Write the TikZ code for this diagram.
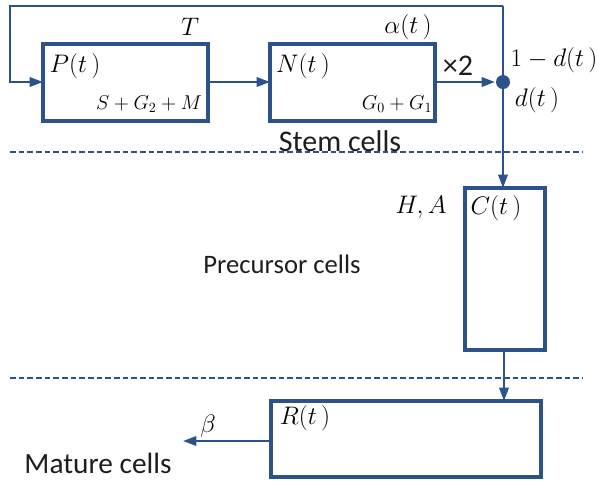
\RequirePackage{fix-cm}
\documentclass[tikz,border=0pt]{standalone}
\usepackage{fontspec}
\newfontfamily\calib{Carlito}
\usetikzlibrary{arrows.meta}
\definecolor{dblue}{RGB}{44,82,140}
\definecolor{txt}{RGB}{30,30,30}
\begin{document}
\begin{tikzpicture}[x=0.75pt,y=-0.75pt,
  box/.style={draw=dblue,line width=2.5pt},
  conn/.style={draw=dblue,line width=1.8pt,-{Triangle[length=10pt,width=7pt]}},
  plain/.style={draw=dblue,line width=1.8pt},
  sep/.style={draw=dblue,line width=1pt,dash pattern=on 4.3pt off 2.2pt},
  mlab/.style={font=\fontsize{19}{22}\selectfont,inner sep=0pt},
  slab/.style={font=\fontsize{15}{17}\selectfont,inner sep=0pt},
  tlab/.style={font=\calib\fontsize{22.5}{26}\selectfont,text=txt,inner sep=0pt}]
\useasboundingbox (0,0) rectangle (597,480);
% boxes
\draw[box] (43,44) rectangle (208,121);
\draw[box] (270,44) rectangle (435,121);
\draw[box] (465,188) rectangle (545,350);
\draw[box] (271,401) rectangle (541,477);
% named anchors
\coordinate (Pw) at (43,82);
\coordinate (Pe) at (208,82);
\coordinate (Nw) at (270,82);
\coordinate (Ne) at (435,82);
\coordinate (dot) at (503,82);
\coordinate (top1) at (10,6);
\coordinate (top2) at (503,6);
\coordinate (left1) at (10,82);
\coordinate (Cn) at (503,188);
\coordinate (Cs) at (504,350);
\coordinate (Rn) at (504,401);
\coordinate (Rw) at (271,441);
\coordinate (out) at (183,441);
% connectors
\draw[conn] (top2) -- (top1) -- (left1) -- (Pw);
\draw[conn] (Pe) -- (Nw);
\draw[conn,shorten >=6pt] (Ne) -- (dot);
\draw[plain] (top2) -- (dot);
\draw[conn] (dot) -- (Cn);
\draw[conn] (Cs) -- (Rn);
\draw[conn] (Rw) -- (out);
\fill[dblue] (dot) circle (7);
% separators
\draw[sep] (10,152) -- (583,152);
\draw[sep] (10,378) -- (583,378);
% labels
\node[mlab] (T) at (190,27) {$T$};
\node[mlab] (Pt) at (75,66) {$P(t\,)$};
\node[slab] (sgm) at (149,104) {$S+G_2+M$};
\node[mlab] (Nt) at (303,66) {$N(t\,)$};
\node[slab] (g01) at (397,104) {$G_0+G_1$};
\node[mlab] (al) at (408,27) {$\alpha(t\,)$};
\node[tlab] (x2) at (458,66) {×2};
\node[mlab] (omd) at (554,60) {$1-d(t\,)$};
\node[mlab] (dt) at (537,100) {$d(t\,)$};
\node[tlab] (stem) at (340,141) {Stem cells};
\node[mlab] (HA) at (421,207) {$H,A$};
\node[mlab] (Ct) at (496,208) {$C(t\,)$};
\node[tlab,font=\calib\fontsize{20}{24}\selectfont] (prec) at (282,264) {Precursor cells};
\node[mlab] (Rt) at (305,418) {$R(t\,)$};
\node[mlab] (be) at (208,426) {$\beta$};
\node[tlab,font=\calib\fontsize{22}{26}\selectfont] (mat) at (98,463) {Mature cells};
\end{tikzpicture}
\end{document}
